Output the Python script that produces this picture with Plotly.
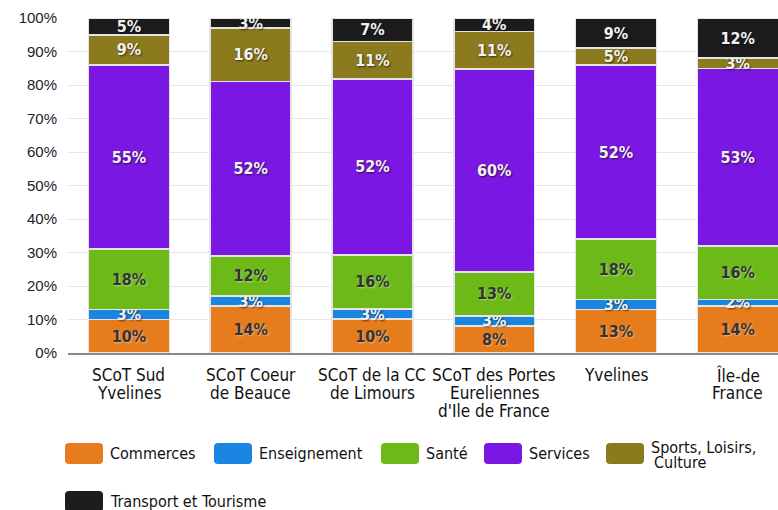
import plotly.graph_objects as go

# categories (x axis), one list item per label line
territories = [
    ["SCoT Sud", "Yvelines"],
    ["SCoT Coeur", "de Beauce"],
    ["SCoT de la CC", "de Limours"],
    ["SCoT des Portes", "Eureliennes", "d'Ile de France"],
    ["Yvelines"],
    ["Île-de", "France"],
]

# share of each equipment type (%)
commerces = [10, 14, 10, 8, 13, 14]
enseignement = [3, 3, 3, 3, 3, 2]
sante = [18, 12, 16, 13, 18, 16]
services = [55, 52, 52, 60, 52, 53]
sports = [9, 16, 11, 11, 5, 3]
transport = [5, 3, 7, 4, 9, 12]

series = [
    ("Commerces", commerces, "#e67c1c", "#333333"),
    ("Enseignement", enseignement, "#1a86e2", "#f2f2f2"),
    ("Santé", sante, "#6cb918", "#333333"),
    ("Services", services, "#7b17e3", "#f2f2f2"),
    ("Sports, Loisirs,| Culture", sports, "#8b7a1e", "#f2f2f2"),
    ("Transport et Tourisme", transport, "#1c1c1c", "#f2f2f2"),
]

FONT = "DejaVu Sans Condensed"
W, H = 778, 510
L, R, T, B = 68, 0, 18, 157
PW, PH = W - L - R, H - T - B


def px_x(x):
    return (x - L) / PW


def px_y(y):
    return (H - B - y) / PH


fig = go.Figure()
for name, vals, color, tcolor in series:
    if tcolor == "#333333":
        shadow = "1px 1px 2px rgba(255,255,255,0.45)"
    else:
        shadow = "1px 1px 2px rgba(0,0,0,0.6)"
    fig.add_trace(go.Bar(
        name=name.replace("|", "<br>"),
        x=list(range(len(territories))),
        y=vals,
        text=[f"{v}%" for v in vals],
        texttemplate="%{text}",
        textposition="inside",
        insidetextanchor="middle",
        constraintext="none",
        textangle=0,
        textfont=dict(family=FONT, size=16, color=tcolor, weight="bold", shadow=shadow),
        marker=dict(color=color, line=dict(color="#e4e4e4", width=1.5)),
        hoverinfo="skip",
        showlegend=False,
    ))

annotations = []
# category labels, one line each so the line spacing stays tight
for i, lines in enumerate(territories):
    for j, line in enumerate(lines):
        annotations.append(dict(
            x=i, y=0, xref="x", yref="paper", text=line, showarrow=False,
            xanchor="center", yanchor="middle", yshift=-22 - 18 * j,
            font=dict(family=FONT, size=17, color="#111111"),
        ))

# custom legend: rounded swatches + labels
shapes = []
legend_pos = [(65, 443), (214, 443), (381, 443), (484, 443), (606, 443), (65, 491)]
sw, sh, rad = 38, 21, 4
for (name, _, color, _), (lx, ly) in zip(series, legend_pos):
    x0, x1 = px_x(lx), px_x(lx + sw)
    y0, y1 = px_y(ly + sh), px_y(ly)
    rx, ry = rad / PW, rad / PH
    path = (f"M {x0 + rx},{y0} L {x1 - rx},{y0} Q {x1},{y0} {x1},{y0 + ry} "
            f"L {x1},{y1 - ry} Q {x1},{y1} {x1 - rx},{y1} L {x0 + rx},{y1} "
            f"Q {x0},{y1} {x0},{y1 - ry} L {x0},{y0 + ry} Q {x0},{y0} {x0 + rx},{y0} Z")
    shapes.append(dict(type="path", xref="paper", yref="paper", path=path,
                       fillcolor=color, line=dict(width=0), layer="above"))
    parts = name.split("|")
    cy = ly + sh / 2
    offs = [0] if len(parts) == 1 else [-6, 9]
    for part, off in zip(parts, offs):
        annotations.append(dict(
            x=px_x(lx + sw + 5 + (3 if part.startswith(" ") else 0)),
            y=px_y(cy + off), xref="paper", yref="paper",
            text=part.strip(), showarrow=False, xanchor="left", yanchor="middle",
            font=dict(family=FONT, size=16, color="#111111"),
        ))

fig.update_layout(
    barmode="stack",
    barnorm="percent",
    bargap=0.335,
    width=W,
    height=H,
    margin=dict(l=L, r=R, t=T, b=B),
    paper_bgcolor="white",
    plot_bgcolor="white",
    font=dict(family=FONT, size=16, color="#222222"),
    uniformtext=dict(mode="show", minsize=16),
    showlegend=False,
    xaxis=dict(
        range=[-0.5, 5.33],
        showgrid=False,
        showline=True,
        linecolor="#888888",
        linewidth=2,
        ticks="",
        showticklabels=False,
    ),
    yaxis=dict(
        range=[0, 100],
        dtick=10,
        ticksuffix="%",
        showgrid=True,
        gridcolor="#e6e6e6",
        gridwidth=1,
        zeroline=False,
        tickfont=dict(family="Liberation Sans", size=15, color="#222222"),
        ticklabelstandoff=10,
    ),
    shapes=shapes,
    annotations=annotations,
)

# drop the page's default body margin so the figure fills the window
fig.write_html("out.html", config={"displayModeBar": False},
               post_script="document.body.style.margin='0';")
